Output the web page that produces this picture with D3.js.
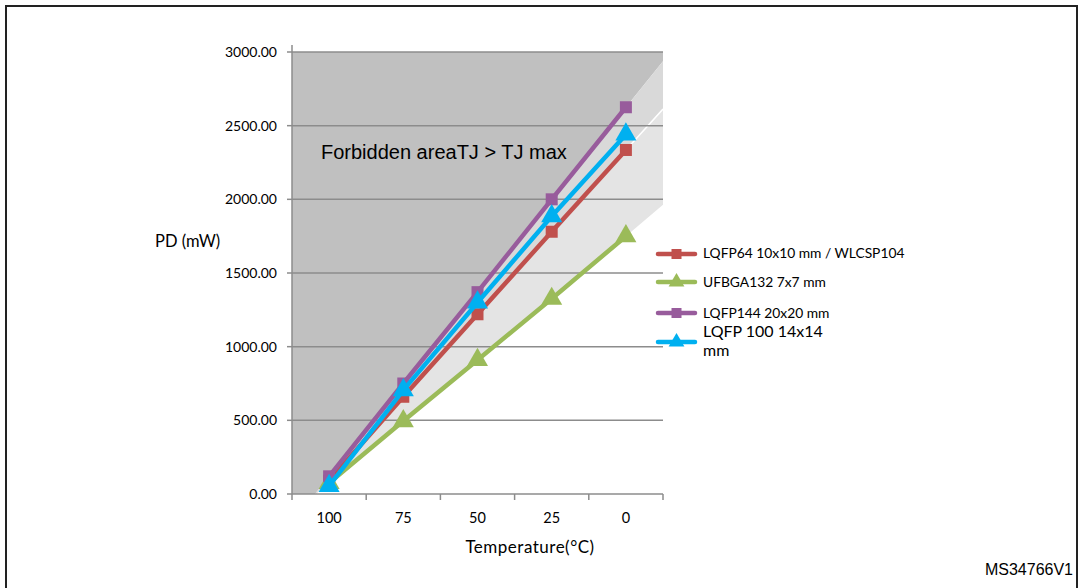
<!DOCTYPE html>
<html><head><meta charset="utf-8">
<script src="https://cdn.jsdelivr.net/npm/d3@7"></script>
<style>body{margin:0;background:#fff}svg{display:block}</style>
</head><body>
<svg id="c" width="1080" height="588"></svg>
<script>
const categories = ["100","75","50","25","0"];
const seriesNames = ["LQFP64 10x10 mm / WLCSP104","UFBGA132 7x7 mm","LQFP144 20x20 mm","LQFP 100 14x14 mm"];
const lqfp64 = [90, 660, 1220, 1780, 2335];
const ufbga132 = [75, 495, 910, 1325, 1750];
const lqfp144 = [120, 750, 1370, 2000, 2625];
const lqfp100 = [55, 705, 1300, 1885, 2440];
const yTicks = [0, 500, 1000, 1500, 2000, 2500, 3000];
const colors = ["#c0504d", "#9bbb59", "#985c9c", "#00b0f0"];
const markers = ["square", "triangle", "square", "triangle"];

const svg = d3.select("#c");
const L = 292, R = 663, T = 52, B = 494;
const x = d3.scaleBand().domain(categories).range([L, R]).padding(0);
const bw = x.bandwidth();
const xi = d3.scaleLinear().domain([-0.5, categories.length - 0.5]).range([L, R]);
const y = d3.scaleLinear().domain([0, 3000]).range([B, T]);
const data = [lqfp64, ufbga132, lqfp144, lqfp100];

// frame
svg.append("rect").attr("x", 6).attr("y", 6).attr("width", 1071).attr("height", 590)
  .attr("fill", "none").attr("stroke", "#222").attr("stroke-width", 2);

// clip
svg.append("clipPath").attr("id", "pc").append("rect")
  .attr("x", L).attr("y", T).attr("width", R - L).attr("height", B - T);

// boundary from series (extended to zero and right edge)
function boundary(v) {
  const n = v.length;
  const t0 = -v[0] / (v[1] - v[0]);
  const tEnd = n - 0.5;
  const vEnd = v[n - 1] + (v[n - 1] - v[n - 2]) * (tEnd - (n - 1));
  const pts = [[t0, 0]];
  v.forEach((d, i) => pts.push([i, d]));
  pts.push([tEnd, vEnd]);
  return pts.map(p => [xi(p[0]), y(p[1])]);
}
const bP = boundary(lqfp144), bR = boundary(lqfp64), bG = boundary(ufbga132);
const g0 = svg.append("g").attr("clip-path", "url(#pc)");
const darkPoly = [[L, T], [R, T]].concat(bP.slice().reverse()).concat([[L, B]]);
g0.append("polygon").attr("points", darkPoly.map(p => p.join(",")).join(" ")).attr("fill", "#c0c0c0");
const band1 = bP.concat(bR.slice().reverse());
g0.append("polygon").attr("points", band1.map(p => p.join(",")).join(" ")).attr("fill", "#d9d9d9");
const band2 = bR.concat(bG.slice().reverse());
g0.append("polygon").attr("points", band2.map(p => p.join(",")).join(" ")).attr("fill", "#e4e4e4");
g0.append("polyline").attr("points", bR.map(p => p.join(",")).join(" ")).attr("fill", "none")
  .attr("stroke", "#fff").attr("stroke-width", 1.5);

// gridlines
svg.append("g").selectAll("line").data(yTicks.filter(d => d > 0)).join("line")
  .attr("x1", L).attr("x2", R).attr("y1", d => y(d)).attr("y2", d => y(d))
  .attr("stroke", "#8c8c8c").attr("stroke-width", 1.5);

// y axis
const ya = svg.append("g");
ya.append("line").attr("x1", L).attr("x2", L).attr("y1", 45).attr("y2", B).attr("stroke", "#8c8c8c").attr("stroke-width", 1.5);
ya.selectAll("line.t").data(yTicks).join("line").attr("class", "t")
  .attr("x1", L - 5).attr("x2", L).attr("y1", d => y(d)).attr("y2", d => y(d))
  .attr("stroke", "#8c8c8c").attr("stroke-width", 1.5);
ya.selectAll("text").data(yTicks).join("text")
  .attr("x", 277).attr("y", d => y(d) + 5).attr("text-anchor", "end")
  .attr("font-family", "Lato").attr("font-size", 14).attr("fill", "#000")
  .text(d => d.toFixed(2));
svg.append("text").attr("x", 155).attr("y", 247).attr("font-family", "Lato").attr("font-size", 16.5)
  .text("PD (mW)");

// x axis
const xa = svg.append("g");
xa.append("line").attr("x1", L).attr("x2", R).attr("y1", B).attr("y2", B).attr("stroke", "#8c8c8c").attr("stroke-width", 1.5);
const edges = categories.map(c => x(c)).concat([R]);
xa.selectAll("line.t").data(edges).join("line").attr("class", "t")
  .attr("x1", d => d).attr("x2", d => d).attr("y1", B).attr("y2", B + 6)
  .attr("stroke", "#8c8c8c").attr("stroke-width", 1.5);
xa.selectAll("text").data(categories).join("text")
  .attr("x", d => x(d) + bw / 2).attr("y", 523).attr("text-anchor", "middle")
  .attr("font-family", "Lato").attr("font-size", 14.5).text(d => d);
svg.append("text").attr("x", 530).attr("y", 553).attr("text-anchor", "middle")
  .attr("font-family", "Lato").attr("font-size", 17).attr("letter-spacing", 0.5).text("Temperature(°C)");

// forbidden label
svg.append("text").attr("x", 321).attr("y", 159).attr("font-family", "Liberation Sans").attr("font-size", 20)
  .text("Forbidden areaTJ > TJ max");

// series
const line = d3.line().x((d, i) => x(categories[i]) + bw / 2).y(d => y(d));
const tri = d3.symbol().type(d3.symbolTriangle);
function marker(g, type, cx, cy, size, color) {
  if (type === "square") {
    g.append("rect").attr("x", cx - size / 2).attr("y", cy - size / 2).attr("width", size).attr("height", size).attr("fill", color);
  } else {
    g.append("path").attr("d", tri.size(size * size * 0.75)()).attr("transform", `translate(${cx},${cy})`).attr("fill", color);
  }
}
data.forEach((v, si) => {
  const g = svg.append("g");
  g.append("path").attr("d", line(v)).attr("fill", "none").attr("stroke", colors[si]).attr("stroke-width", 4.5);
  v.forEach((d, i) => marker(g, markers[si], x(categories[i]) + bw / 2, y(d), markers[si] === "square" ? 12 : 16, colors[si]));
});

// legend
const legY = [254, 282, 313, 342];
data.forEach((v, si) => {
  const g = svg.append("g");
  g.append("line").attr("x1", 658).attr("x2", 695).attr("y1", legY[si]).attr("y2", legY[si])
    .attr("stroke", colors[si]).attr("stroke-width", 4.5).attr("stroke-linecap", "round");
  marker(g, markers[si], 676.5, legY[si], markers[si] === "square" ? 10 : 12, colors[si]);
});
const legText = svg.append("g").attr("font-family", "Lato");
legText.append("text").attr("x", 703).attr("y", 258).attr("font-size", 13.8).text(seriesNames[0]);
legText.append("text").attr("x", 703).attr("y", 287).attr("font-size", 13.8).text(seriesNames[1]);
legText.append("text").attr("x", 703).attr("y", 318).attr("font-size", 13.8).text(seriesNames[2]);
const lt = legText.append("text").attr("x", 703).attr("font-size", 16);
lt.append("tspan").attr("x", 703).attr("y", 337).text("LQFP 100 14x14");
lt.append("tspan").attr("x", 703).attr("y", 356).text("mm");

// footer id
svg.append("text").attr("x", 1073).attr("y", 575).attr("text-anchor", "end")
  .attr("font-family", "Liberation Sans").attr("font-size", 16).text("MS34766V1");
</script>
</body></html>
